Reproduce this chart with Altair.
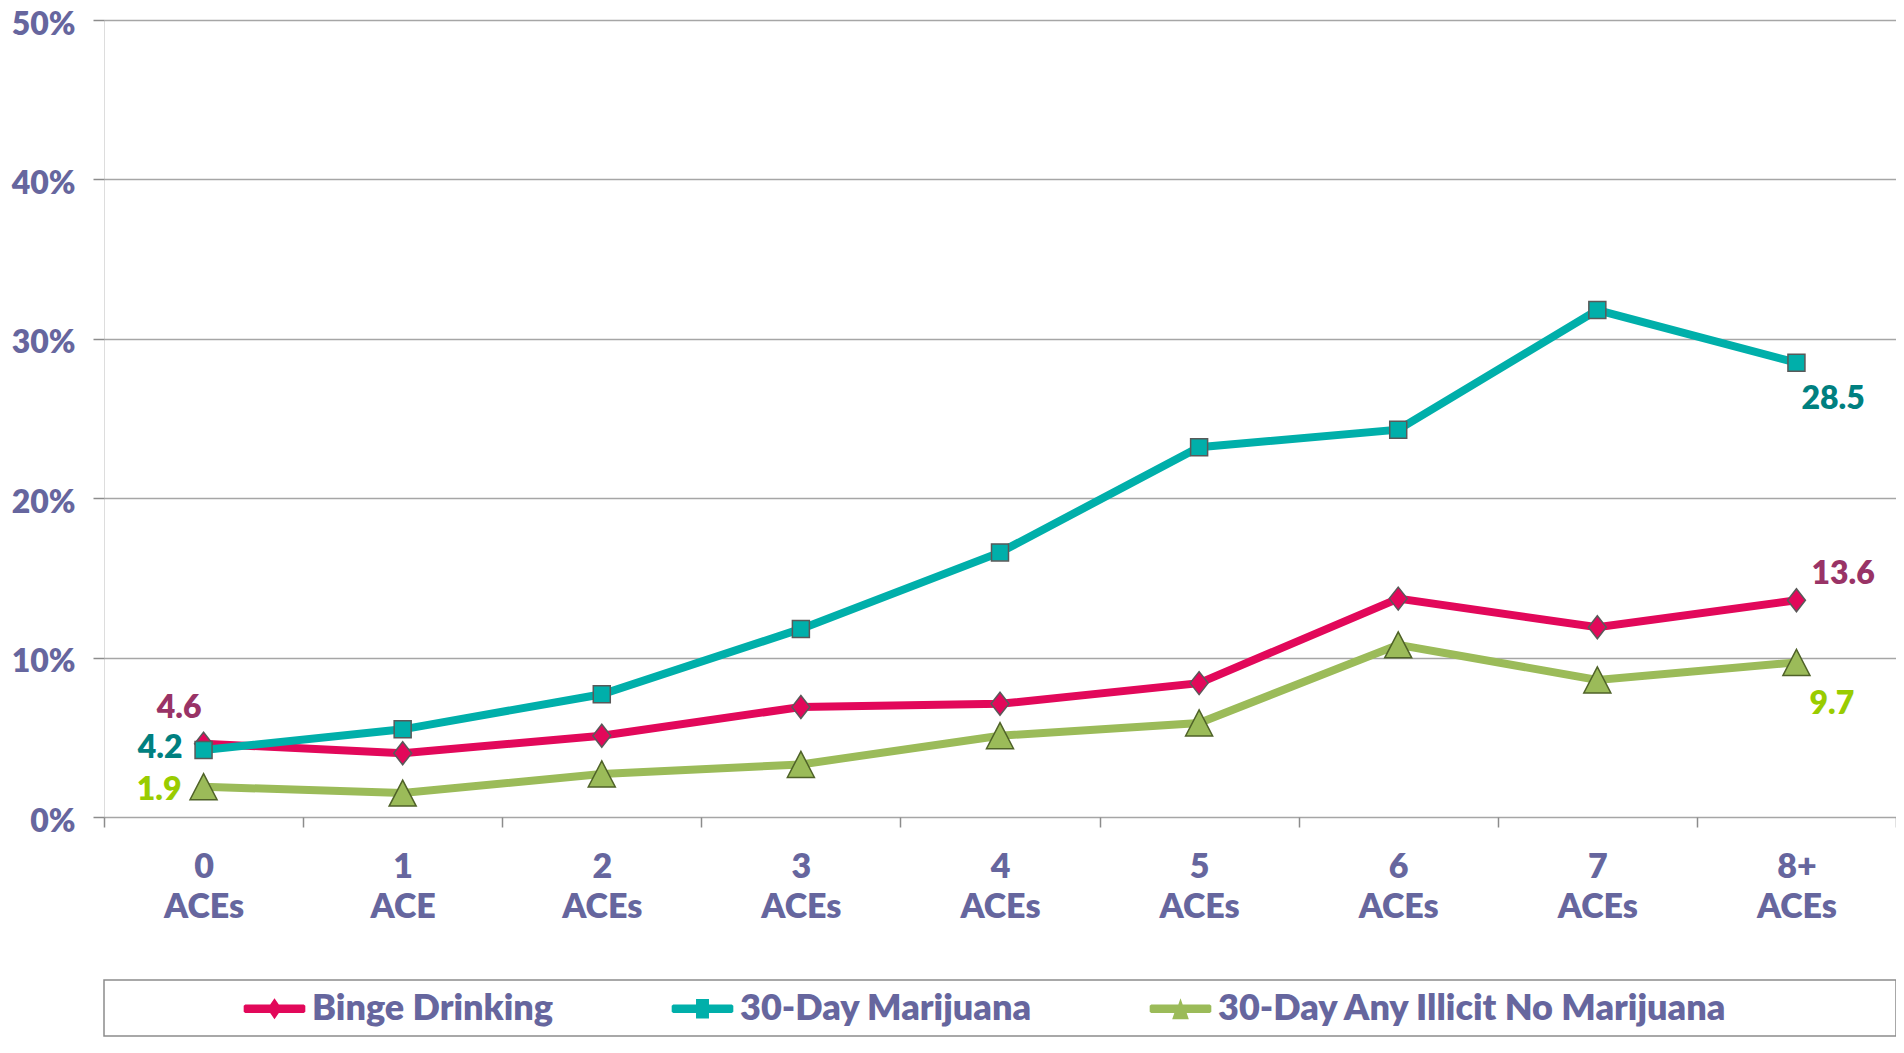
import altair as alt
import pandas as pd

# ---- data ----
categories = ["0 ACEs", "1 ACE", "2 ACEs", "3 ACEs", "4 ACEs", "5 ACEs", "6 ACEs", "7 ACEs", "8+ ACEs"]
series_names = ["Binge Drinking", "30-Day Marijuana", "30-Day Any Illicit No Marijuana"]
binge = [4.6, 4.0, 5.1, 6.9, 7.1, 8.4, 13.7, 11.9, 13.6]
marijuana = [4.2, 5.5, 7.7, 11.8, 16.6, 23.2, 24.3, 31.8, 28.5]
illicit = [1.9, 1.5, 2.7, 3.3, 5.1, 5.9, 10.8, 8.6, 9.7]
y_ticks = [0, 10, 20, 30, 40, 50]

# ---- styles ----
line_colors = ["#E2085A", "#00AFAA", "#9BBB59"]
label_colors = ["#993366", "#008080", "#99CC00"]
outline_colors = ["#595959", "#595959", "#4F6228"]
plot_shapes = ["M0,-1L0.78,0L0,1L-0.78,0Z", "square", "M0,-1L1.04,1L-1.04,1Z"]
plot_sizes = [529, 289, 676]
legend_paths = [
    "M-0.95,-0.14L-0.14,-0.14L0,-0.34L0.14,-0.14L0.95,-0.14L1,-0.1L1,0.1L0.95,0.14L0.14,0.14L0,0.34L-0.14,0.14L-0.95,0.14L-1,0.1L-1,-0.1Z",
    "M-0.95,-0.14L-0.21,-0.14L-0.21,-0.32L0.21,-0.32L0.21,-0.14L0.95,-0.14L1,-0.1L1,0.1L0.95,0.14L0.21,0.14L0.21,0.32L-0.21,0.32L-0.21,0.14L-0.95,0.14L-1,0.1L-1,-0.1Z",
    "M-0.95,-0.14L-0.07,-0.14L0,-0.34L0.07,-0.14L0.95,-0.14L1,-0.1L1,0.1L0.95,0.14L0.2,0.14L0.27,0.34L-0.27,0.34L-0.2,0.14L-0.95,0.14L-1,0.1L-1,-0.1Z",
]
TXT = "#66669E"
GREY = "#8C8C8C"
FONT = "Lato"
WEIGHT = 800

rows = []
for name, vals in zip(series_names, [binge, marijuana, illicit]):
    for c, v in zip(categories, vals):
        rows.append({"ace": c, "series": name, "value": v})
df = pd.DataFrame(rows)

W, H = 1792, 797

x_enc = alt.X(
    "ace:N",
    sort=categories,
    scale=alt.Scale(type="band", domain=categories, paddingInner=0, paddingOuter=0),
    axis=alt.Axis(
        title=None, labelAngle=0, labelExpr="split(datum.label, ' ')",
        tickBand="extent", tickSize=10, tickColor=GREY, tickWidth=1.5,
        domain=False, grid=False, labelPadding=23, labelLineHeight=40,
        labelFontSize=34, labelFontWeight=WEIGHT, labelColor=TXT, labelFont=FONT,
    ),
)
y_enc = alt.Y(
    "value:Q",
    scale=alt.Scale(domain=[0, 50], nice=False, zero=True),
    axis=alt.Axis(
        title=None, values=y_ticks, labelExpr="datum.value + '%'",
        tickSize=11, tickColor=GREY, tickWidth=1.5, domain=False,
        grid=True, gridColor="#A6A6A6", gridWidth=1.3, labelPadding=18, labelOffset=4,
        labelFontSize=32, labelFontWeight=WEIGHT, labelColor=TXT, labelFont=FONT,
    ),
)

base = alt.Chart(df)

box = alt.Chart(pd.DataFrame({"k": [0]})).mark_rect(
    fill="white", stroke=GREY, strokeWidth=1.5
).encode(x=alt.value(0), x2=alt.value(W), y=alt.value(960), y2=alt.value(1016))

layers = [box]
for i, name in enumerate(series_names):
    sub = base.transform_filter(alt.datum.series == name)
    layers.append(sub.mark_line(strokeWidth=8, color=line_colors[i]).encode(x=x_enc, y=y_enc))
    layers.append(
        sub.mark_point(
            shape=plot_shapes[i], filled=True, fill=line_colors[i], stroke=outline_colors[i],
            strokeWidth=1.5, size=plot_sizes[i], opacity=1,
        ).encode(x=x_enc, y=y_enc)
    )

# data labels: (series index, category, align, dx, dy)
label_specs = [
    (0, "0 ACEs", "right", -2, -36),
    (1, "0 ACEs", "right", -21, -2),
    (2, "0 ACEs", "right", -22, 3),
    (1, "8+ ACEs", "left", 5, 36),
    (0, "8+ ACEs", "left", 15, -26),
    (2, "8+ ACEs", "left", 13, 42),
]
for si, cat, align, dx, dy in label_specs:
    layers.append(
        base.transform_filter((alt.datum.series == series_names[si]) & (alt.datum.ace == cat))
        .mark_text(align=align, baseline="middle", dx=dx, dy=dy, fontSize=32, font=FONT,
                   fontWeight=WEIGHT, color=label_colors[si])
        .encode(x=x_enc, y=y_enc, text=alt.Text("value:Q", format=".1f"))
    )

leg = alt.Legend(
    orient="none", legendX=139, legendY=957, direction="horizontal", title=None,
    symbolSize=3800, symbolStrokeColor="#595959", symbolStrokeWidth=1, symbolOpacity=1,
    labelFontSize=36, labelFont=FONT, labelFontWeight=WEIGHT, labelColor=TXT,
    labelOffset=6, labelLimit=800, columnPadding=115, padding=0,
)
legend_layer = base.mark_point(filled=True, opacity=0, stroke="#595959", strokeWidth=1).encode(
    x=x_enc, y=y_enc,
    fill=alt.Fill("series:N", scale=alt.Scale(domain=series_names, range=line_colors), legend=leg),
    shape=alt.Shape("series:N", scale=alt.Scale(domain=series_names, range=legend_paths), legend=leg),
)
layers.append(legend_layer)

chart = alt.layer(*layers).properties(
    width=W, height=H,
    autosize=alt.AutoSizeParams(type="none"),
    padding={"left": 96, "top": 12, "right": 0, "bottom": 221},
).configure_view(stroke="#7A7A7A", strokeWidth=3.5).configure(font=FONT)

chart.save("out.html", embed_options={"renderer": "svg", "actions": False})
